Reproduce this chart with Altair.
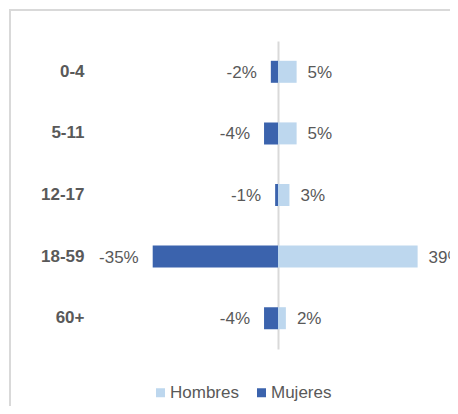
import altair as alt
import pandas as pd

categories = ["0-4", "5-11", "12-17", "18-59", "60+"]
hombres = [5.2, 5.2, 3.2, 39.0, 2.2]
mujeres = [-2.0, -3.9, -0.8, -35.0, -3.9]
series = ["Hombres", "Mujeres"]
colors = ["#BDD7EE", "#3B63AD"]

rows = []
for c, h, m in zip(categories, hombres, mujeres):
    rows.append({"edad": c, "sexo": "Hombres", "valor": h, "label": f"{round(h)}%"})
    rows.append({"edad": c, "sexo": "Mujeres", "valor": m, "label": f"{round(m)}%"})
df = pd.DataFrame(rows)

FONT = "Liberation Sans"
GREY = "#595959"

x_enc = alt.X("valor:Q", stack=None, axis=None,
              scale=alt.Scale(domain=[-74.86, 53.63], nice=False))
y_enc = alt.Y("edad:N", sort=categories, title=None,
              scale=alt.Scale(range=[31, 339], paddingInner=0.643, paddingOuter=0.3215),
              axis=alt.Axis(orient="left", offset=-268, ticks=False, tickSize=0,
                            labelPadding=194, domain=True, domainColor="#D9D9D9",
                            domainWidth=2, grid=False, labelFont=FONT, labelFontSize=17,
                            labelFontWeight="bold", labelColor=GREY, labelAlign="right",
                            labelBaseline="middle"))
y_plain = alt.Y("edad:N", sort=categories)

bars = alt.Chart(df).mark_bar().encode(
    x=x_enc,
    y=y_enc,
    color=alt.Color("sexo:N", scale=alt.Scale(domain=series, range=colors),
                    legend=alt.Legend(title=None, orient="none", legendX=142, legendY=374,
                                      direction="horizontal", symbolType="square",
                                      symbolSize=81, symbolStrokeWidth=0, labelFont=FONT,
                                      labelFontSize=17, labelColor=GREY, labelOffset=1,
                                      columnPadding=14, padding=0)),
)

text_h = alt.Chart(df).transform_filter("datum.sexo == 'Hombres'").mark_text(
    align="left", baseline="middle", dx=11, dy=1, font=FONT, fontSize=17, color=GREY
).encode(x=x_enc, y=y_plain, text="label:N")

text_m = alt.Chart(df).transform_filter("datum.sexo == 'Mujeres'").mark_text(
    align="right", baseline="middle", dx=-14, dy=1, font=FONT, fontSize=17, color=GREY
).encode(x=x_enc, y=y_plain, text="label:N")

chart = alt.layer(bars, text_h, text_m).properties(
    width=460, height=410,
    autosize=alt.AutoSizeParams(type="none"),
    padding={"left": 2, "top": 2, "right": -20, "bottom": -14},
    background="white",
).configure_view(stroke="#D9D9D9", strokeWidth=2)

chart.save("out.html", embed_options={"renderer": "svg", "actions": False})
